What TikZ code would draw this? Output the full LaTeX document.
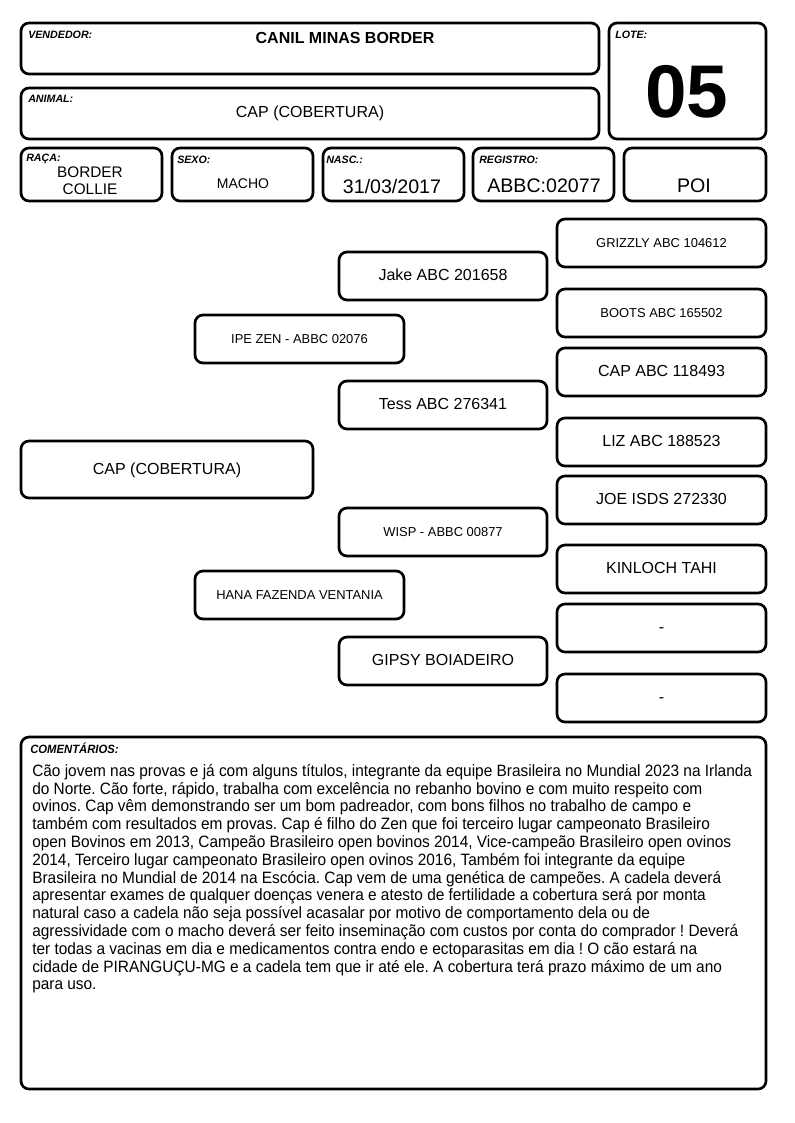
\documentclass[tikz,border=0pt]{standalone}
\usepackage{fontspec}
\setmainfont{Liberation Sans}
\newfontfamily\narrow[FakeStretch=0.94]{Liberation Sans}
\frenchspacing
\begin{document}
\begin{tikzpicture}[x=0.75pt,y=-0.75pt,
  box/.style={draw=black, line width=2pt, rounded corners=6pt, inner sep=0pt, align=center,
    text height=0.716em, text depth=0pt},
  lbl/.style={anchor=west, inner sep=0pt, font=\fontsize{8}{9}\selectfont\bfseries\itshape},
  txt/.style={inner sep=0pt, align=center},
  big/.style={font=\fontsize{12}{13}\selectfont},
  small/.style={font=\fontsize{9.7}{11}\selectfont},
  mid/.style={font=\fontsize{14.7}{16}\selectfont}]
\useasboundingbox (0,0) rectangle (794,1123);
\newcommand\pbox[7][]{%
  \node[box,#1, minimum width={(#4-#2)*0.75pt}, minimum height={(#5-#3)*0.75pt}] (#6) at ({(#2+#4)/2},{(#3+#5)/2}) {#7};}
% header
\pbox{21}{23}{599}{74}{vend}{}
\node[lbl] (vendl) at (28,35) {VENDEDOR:};
\node[txt, font=\fontsize{12}{13}\selectfont\bfseries] (vendt) at (345,38) {CANIL MINAS BORDER};
\pbox{21}{88}{599}{139}{anim}{}
\node[lbl] (animl) at (28,99) {ANIMAL:};
\node[txt, big] (animt) at (310,113) {CAP (COBERTURA)};
\pbox{609}{23}{766}{139}{lote}{}
\node[lbl] (lotel) at (615,35) {LOTE:};
\node[txt, font=\fontsize{56}{58}\selectfont\bfseries] (lotet) at (687,92) {05};
% row 3
\pbox{21}{148}{162}{201}{raca}{}
\node[lbl] (racal) at (26,159) {RAÇA:};
\node[txt, font=\fontsize{11.5}{12.5}\selectfont] (racat) at (90,181) {BORDER\\COLLIE};
\pbox{172}{148}{313}{201}{sexo}{}
\node[lbl] (sexol) at (177,160) {SEXO:};
\node[txt, font=\fontsize{10.5}{12}\selectfont] (sexot) at (243,184) {MACHO};
\pbox{323}{148}{464}{201}{nasc}{}
\node[lbl] (nascl) at (326,160) {NASC.:};
\node[txt, mid] (nasct) at (392,186) {31/03/2017};
\pbox{473}{148}{614}{201}{regi}{}
\node[lbl] (regil) at (479,160) {REGISTRO:};
\node[txt, mid] (regit) at (544,186) {ABBC:02077};
\pbox{624}{148}{766}{201}{poi}{}
\node[txt, mid] (poit) at (694,186) {POI};
% pedigree
\pbox[big]{21}{441}{313}{498}{g0}{CAP (COBERTURA)}
\pbox[small]{195}{315}{404}{363}{g1a}{IPE ZEN - ABBC 02076}
\pbox[small]{195}{571}{404}{619}{g1b}{HANA FAZENDA VENTANIA}
\pbox[big]{339}{252}{547}{300}{g2a}{Jake ABC 201658}
\pbox[big]{339}{381}{547}{429}{g2b}{Tess ABC 276341}
\pbox[small]{339}{508}{547}{556}{g2c}{WISP - ABBC 00877}
\pbox[big]{339}{637}{547}{685}{g2d}{GIPSY BOIADEIRO}
\pbox[small]{557}{219}{766}{267}{g3a}{GRIZZLY ABC 104612}
\pbox[small]{557}{289}{766}{337}{g3b}{BOOTS ABC 165502}
\pbox[big]{557}{348}{766}{396}{g3c}{CAP ABC 118493}
\pbox[big]{557}{418}{766}{466}{g3d}{LIZ ABC 188523}
\pbox[big]{557}{476}{766}{524}{g3e}{JOE ISDS 272330}
\pbox[big]{557}{545}{766}{593}{g3f}{KINLOCH TAHI}
\pbox[big]{557}{604}{766}{652}{g3g}{-}
\pbox[big]{557}{674}{766}{722}{g3h}{-}
% comments
\pbox{21}{737}{766}{1089}{com}{}
\node[lbl, font=\narrow\fontsize{9}{10}\selectfont\bfseries\itshape] (coml) at (30,748) {COMENTÁRIOS:};
\node[anchor=north west, inner sep=0pt, align=left, font=\narrow\fontsize{12.3}{13.35}\selectfont] (comt) at (32,764) {%
Cão jovem nas provas e já com alguns títulos, integrante da equipe Brasileira no Mundial 2023 na Irlanda\\
do Norte. Cão forte, rápido, trabalha com excelência no rebanho bovino e com muito respeito com\\
ovinos. Cap vêm demonstrando ser um bom padreador, com bons filhos no trabalho de campo e\\
também com resultados em provas. Cap é filho do Zen que foi terceiro lugar campeonato Brasileiro\\
open Bovinos em 2013, Campeão Brasileiro open bovinos 2014, Vice-campeão Brasileiro open ovinos\\
2014, Terceiro lugar campeonato Brasileiro open ovinos 2016, Também foi integrante da equipe\\
Brasileira no Mundial de 2014 na Escócia. Cap vem de uma genética de campeões. A cadela deverá\\
apresentar exames de qualquer doenças venera e atesto de fertilidade a cobertura será por monta\\
natural caso a cadela não seja possível acasalar por motivo de comportamento dela ou de\\
agressividade com o macho deverá ser feito inseminação com custos por conta do comprador ! Deverá\\
ter todas a vacinas em dia e medicamentos contra endo e ectoparasitas em dia ! O cão estará na\\
cidade de PIRANGUÇU-MG e a cadela tem que ir até ele. A cobertura terá prazo máximo de um ano\\
para uso.};
\end{tikzpicture}
\end{document}
